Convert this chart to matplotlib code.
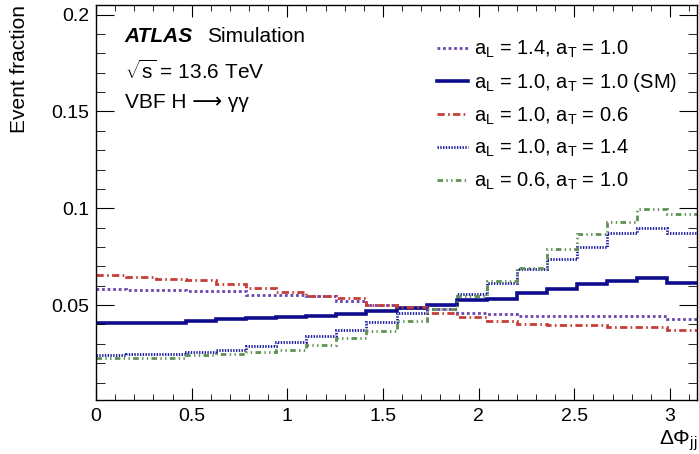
import numpy as np
import matplotlib
matplotlib.use("Agg")
import matplotlib.pyplot as plt
from matplotlib.ticker import MultipleLocator
from matplotlib.lines import Line2D

plt.rcParams['font.family'] = ['Liberation Sans', 'DejaVu Sans']
plt.rcParams['mathtext.fontset'] = 'custom'
plt.rcParams['mathtext.rm'] = 'Liberation Sans'
plt.rcParams['mathtext.it'] = 'Liberation Sans:italic'
plt.rcParams['mathtext.bf'] = 'Liberation Sans:bold'

n_bins = 20
x_min, x_max = 0.0, np.pi

sm = [0.0408, 0.0408, 0.0408, 0.0417, 0.0426, 0.0431, 0.0438, 0.0446, 0.0455, 0.0472,
      0.0485, 0.0503, 0.0529, 0.0534, 0.0564, 0.0581, 0.0607, 0.0624, 0.0638, 0.0616]
aL14 = [0.0583, 0.0580, 0.0578, 0.0573, 0.0571, 0.0553, 0.0550, 0.0547, 0.0522, 0.0500,
        0.0486, 0.0478, 0.0460, 0.0452, 0.0443, 0.0443, 0.0446, 0.0446, 0.0446, 0.0429]
aT06 = [0.0654, 0.0645, 0.0636, 0.0628, 0.0607, 0.0590, 0.0567, 0.0547, 0.0535, 0.0500,
        0.0490, 0.0460, 0.0438, 0.0420, 0.0403, 0.0395, 0.0395, 0.0388, 0.0386, 0.0369]
aT14 = [0.0243, 0.0245, 0.0248, 0.0258, 0.0270, 0.0288, 0.0308, 0.0340, 0.0374, 0.0412,
        0.0460, 0.0503, 0.0560, 0.0616, 0.0685, 0.0737, 0.0802, 0.0870, 0.0900, 0.0871]
aL06 = [0.0227, 0.0227, 0.0229, 0.0241, 0.0248, 0.0258, 0.0270, 0.0296, 0.0330, 0.0365,
        0.0417, 0.0478, 0.0547, 0.0624, 0.0693, 0.0789, 0.0866, 0.0930, 0.0996, 0.0973]

labels = [r'a$_{\mathrm{L}}$ = 1.4, a$_{\mathrm{T}}$ = 1.0',
          r'a$_{\mathrm{L}}$ = 1.0, a$_{\mathrm{T}}$ = 1.0 (SM)',
          r'a$_{\mathrm{L}}$ = 1.0, a$_{\mathrm{T}}$ = 0.6',
          r'a$_{\mathrm{L}}$ = 1.0, a$_{\mathrm{T}}$ = 1.4',
          r'a$_{\mathrm{L}}$ = 0.6, a$_{\mathrm{T}}$ = 1.0']
series = [aL14, sm, aT06, aT14, aL06]
colors = ['#6B45AE', '#0C0C8C', '#C63D38', '#1A1AA0', '#5E9152']
widths = [2.0, 2.6, 2.0, 2.0, 2.0]
styles = [(0, (1.0, 1.0)), '-', (0, (2.6, 1.2, 0.6, 1.2)), (0, (0.5, 0.5)),
          (0, (2.0, 1.2, 0.5, 1.2, 0.5, 1.2))]

edges = np.linspace(x_min, x_max, n_bins + 1)

fig = plt.figure(figsize=(6.99, 4.54), dpi=100)
ax = fig.add_axes([96/699, 54/454, 601/699, 395/454])

for vals, lab, c, lw, ls in zip(series, labels, colors, widths, styles):
    ax.stairs(vals, edges, color=c, lw=lw, linestyle=ls, label=lab, baseline=None)

ax.set_xlim(x_min, x_max)
ax.set_ylim(0.001, 0.205)
ax.xaxis.set_minor_locator(MultipleLocator(0.1))
ax.yaxis.set_minor_locator(MultipleLocator(0.01))
ax.set_xticks([0, 0.5, 1, 1.5, 2, 2.5, 3])
ax.set_xticklabels(['0', '0.5', '1', '1.5', '2', '2.5', '3'])
ax.set_yticks([0.05, 0.1, 0.15, 0.2])
ax.set_yticklabels(['0.05', '0.1', '0.15', '0.2'])
ax.tick_params(which='both', direction='in', top=True, right=True, labelsize=14, colors='black')
ax.tick_params(axis='y', which='major', length=13, pad=5)
ax.tick_params(axis='y', which='minor', length=6.5)
ax.tick_params(axis='x', which='major', length=8.6, pad=6)
ax.tick_params(axis='x', which='minor', length=4.3)
for s in ax.spines.values():
    s.set_linewidth(1.0)

ax.set_ylabel('Event fraction', fontsize=15, loc='top', labelpad=16)
ax.set_xlabel(r'$\Delta\Phi_{\mathrm{jj}}$', fontsize=15, loc='right', labelpad=2)

fs_txt = 15
ax.text(0.048, 0.921, 'ATLAS', transform=ax.transAxes, fontsize=fs_txt,
        fontweight='bold', fontstyle='italic', va='center')
ax.text(0.185, 0.921, 'Simulation', transform=ax.transAxes, fontsize=fs_txt, va='center')
ax.text(0.048, 0.832, r'$\sqrt{\mathrm{s}}$ = 13.6 TeV', transform=ax.transAxes,
        fontsize=fs_txt, va='center')
ax.text(0.048, 0.752, 'VBF H \u27f6 γγ', transform=ax.transAxes,
        fontsize=fs_txt, va='center', family=['Liberation Sans', 'DejaVu Sans'])

leg_handles = [Line2D([], [], color=c, lw=lw, linestyle=ls)
               for c, lw, ls in zip(colors, widths, styles)]
ax.legend(leg_handles, labels, loc='upper left', bbox_to_anchor=(0.567, 0.915),
          frameon=False, fontsize=14.5, handlelength=1.55, handletextpad=0.3,
          labelspacing=0.56, borderaxespad=0, borderpad=0)

fig.savefig('out.png', dpi=100)
